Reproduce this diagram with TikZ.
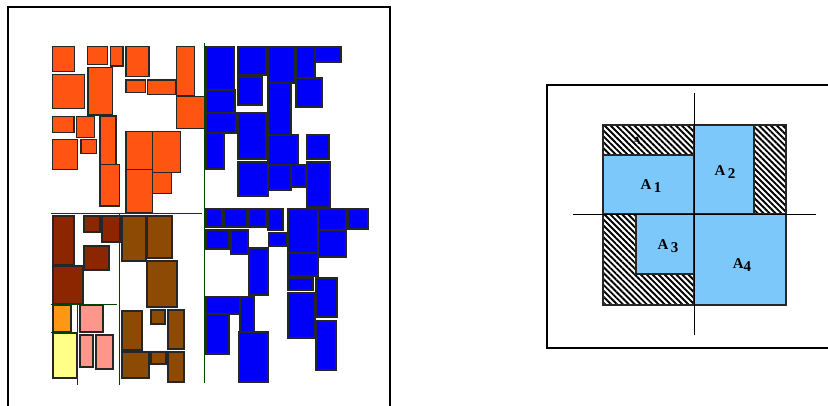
\documentclass[tikz,border=0pt]{standalone}
\usepackage{fontspec}
\setmainfont{Liberation Serif}
\usetikzlibrary{patterns.meta}
\definecolor{orng}{RGB}{255,84,18}\definecolor{blu}{RGB}{0,0,250}\definecolor{redbr}{RGB}{140,38,0}
\definecolor{brwn}{RGB}{140,74,4}\definecolor{ambr}{RGB}{255,150,20}\definecolor{salm}{RGB}{255,150,140}
\definecolor{lyel}{RGB}{255,255,135}\definecolor{sky}{RGB}{125,200,250}

\begin{document}
\begin{tikzpicture}[x=1pt, y=-1pt, box/.style={draw=black!85, line width=1.2pt}, frame/.style={line width=1.4pt}, cut/.style={line width=0.8pt, draw=black!75!green}, axis/.style={line width=0.9pt}, hatch/.style={pattern={Lines[angle=-45, distance=4.2pt, line width=1.9pt]}}, lab/.style={font=\fontsize{15}{17}\selectfont\bfseries, inner sep=0pt}]

\useasboundingbox (0,0) rectangle (828,406);
\draw[frame] (8,406)--(8,7)--(390,7)--(390,406); \draw[frame] (828,85)--(547,85)--(547,348)--(828,348);
% left panel: packed blocks
\foreach \a/\b/\c/\d in {52.7/46.7/74.3/71.7, 87.7/46.7/107.7/64.3, 110.7/46.7/123/66, 126/46.7/149/76.7, 176.7/46.7/194.3/95.7, 52.7/74.3/84.7/108.3, 88/67.7/112.3/115, 126/80/145.7/92.3, 147.3/80/176/94.3, 176.7/96.7/204.3/128.3, 52.7/116.7/74/132.3, 76.7/116.7/94.3/137.3, 81/139.3/96.7/153.3, 52.7/139.3/77.3/169.3, 100/116/116/164.3, 100/164.3/119.3/206, 126/131.7/152.7/169.3, 152.7/131.7/180.3/172.3, 152.7/172.3/171.7/193.3, 126/169.3/152.7/212.7} \draw[box, fill=orng] (\a,\b) rectangle (\c,\d);
\foreach \a/\b/\c/\d in {206/47/234/90, 206/90/235/113, 206/113/236/133, 206/133/224/169, 238/47/266/75, 238/77/262/105, 238/113/266/159, 238/162/268/196, 268/47/295/83, 268/83/291/135, 268/135/298/165, 268/165/291/190, 291/165/306/187, 296/47/315/78, 315/47/341/62, 296/78/322/107, 307/135/329/159, 307/162/330/207, 206/209/222/227, 224/209/247/227, 249/209/266/227, 268/209/283/230, 288/209/318/253, 318/209/346/230, 318/230/346/257, 348/209/368/229, 206/230/229/249, 231/230/248/254, 249/248/268/295, 269/233/287/246, 288/253/318/276, 288/278/313/290, 288/293/315/338, 316/278/337/317, 316/321/336/370, 206/297/240/314, 206/314/229/354, 240/297/254/332, 239/332/268/382} \draw[box, fill=blu] (\a,\b) rectangle (\c,\d);
\foreach \a/\b/\c/\d in {53/216/74/265, 53/266/83/304, 84/216/100/232, 102/216/120/242, 84/246/109/270} \draw[box, fill=redbr] (\a,\b) rectangle (\c,\d);
\foreach \a/\b/\c/\d in {122/216/146/261, 147/216/172/258, 147/261/177/307, 122/311/142/350, 151/310/165/324, 168/310/184/349, 122/352/149/378, 151/352/166/364, 168/352/184/382} \draw[box, fill=brwn] (\a,\b) rectangle (\c,\d);
\draw[box, fill=ambr] (53,305) rectangle (71,332); \draw[box, fill=lyel] (53,333) rectangle (77,378);
\foreach \a/\b/\c/\d in {80/305/103/332, 80/335/93/367, 96/335/113/369} \draw[box, fill=salm] (\a,\b) rectangle (\c,\d);
\draw[cut] (204.3,43)--(204.3,383); \draw[cut] (50.7,213.3)--(201.7,213.3); \draw[cut] (50.7,304)--(117,304); \draw[cut] (50.7,332)--(78,332); \draw[cut] (119,213.3)--(119,385); \draw[cut] (77.5,304)--(77.5,385);
% right panel: four areas
\fill[hatch] (603,125) rectangle (786,305);
\draw[box, fill=sky] (603,155) rectangle (694,214); \draw[box, fill=sky] (694,125) rectangle (754,214); \draw[box, fill=sky] (636,214) rectangle (694,274); \draw[box, fill=sky] (694,214) rectangle (786,305);
\draw[box] (603,125) rectangle (786,305); \draw[axis] (694,93)--(694,335); \draw[axis] (573,214)--(816,214);
\node[lab] (a1) at (651,186) {A\,\raisebox{-3pt}{1}}; \node[lab] (a2) at (725,172) {A\,\raisebox{-3pt}{2}}; \node[lab] (a3) at (668,246) {A\,\raisebox{-3pt}{3}}; \node[lab] (a4) at (742,265) {A\raisebox{-3pt}{4}};
\node[font=\fontsize{11}{13}\selectfont\bfseries, inner sep=0pt] (a0) at (637,141) {A};
\end{tikzpicture}
\end{document}
